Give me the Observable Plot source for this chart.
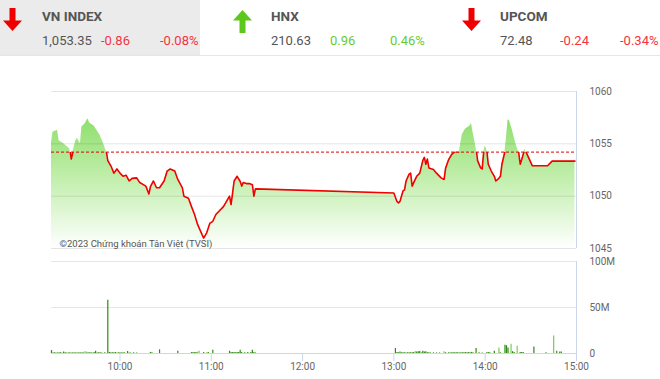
<!DOCTYPE html>
<html><head><meta charset="utf-8">
<script src="https://cdn.jsdelivr.net/npm/d3@7"></script>
<script src="https://cdn.jsdelivr.net/npm/@observablehq/plot@0.6"></script>
<style>
body{margin:0;background:#fff;}
#wrap{position:relative;width:660px;height:379px;overflow:hidden;font-family:Roboto,sans-serif;}
.blk{position:absolute;top:0;height:55px;}
.t{position:absolute;font-size:13px;line-height:16px;color:#555;white-space:nowrap;}
.nm{font-weight:bold;font-size:13.5px;}
#line{position:absolute;left:0;top:55px;width:660px;height:1px;background:#e6e6e6;}
#price{position:absolute;left:0;top:60px;}
#vol{position:absolute;left:0;top:255px;}
</style></head>
<body><div id="wrap"><div id="line"></div><div id="price"></div><div id="vol"></div></div>
<script>
// ---- header data ----
const idxNames = ["VN INDEX", "HNX", "UPCOM"];
const idxValues = ["1,053.35", "210.63", "72.48"];
const idxChanges = ["-0.86", "0.96", "-0.24"];
const idxPcts = ["-0.08%", "0.46%", "-0.34%"];
const idxDir = ["down", "up", "down"];

// ---- price series (VN-Index, intraday) ----
const priceTimes = ["09:15","09:16","09:19","09:20","09:23","09:26","09:27","09:28","09:29","09:31","09:32","09:34","09:35","09:37","09:39","09:40","09:43","09:45","09:47","09:49","09:51","09:52","09:54","09:56","09:58","10:00","10:02","10:04","10:06","10:08","10:11","10:13","10:17","10:19","10:20","10:22","10:24","10:26","10:29","10:31","10:33","10:36","10:38","10:41","10:42","10:45","10:47","10:49","10:51","10:54","10:55","10:57","10:59","11:01","11:03","11:06","11:08","11:10","11:12","11:13","11:14","11:15","11:17","11:19","11:20","11:21","11:23","11:25","11:27","11:28","11:29",
"13:00","13:02","13:03","13:04","13:06","13:07","13:08","13:10","13:11","13:12","13:14","13:15","13:17","13:19","13:20","13:21","13:22","13:23","13:26","13:28","13:31","13:33","13:34","13:36","13:38","13:40","13:43","13:44","13:45","13:47","13:50","13:51","13:52","13:54","13:55","13:57","13:58","13:59","14:00","14:01","14:02","14:04","14:06","14:07","14:09","14:10","14:11","14:13","14:14","14:15","14:16","14:18","14:20","14:22","14:23","14:24","14:26","14:28","14:31","14:41","14:44","14:59"];
const priceValues = [1055.1,1056.1,1056.3,1055.3,1055.0,1054.65,1054.5,1053.55,1054.2,1055.3,1055.5,1055.0,1056.6,1056.9,1057.4,1057.0,1056.7,1056.25,1055.8,1055.1,1054.3,1053.4,1052.9,1052.2,1052.6,1052.2,1051.9,1052.0,1051.45,1051.7,1051.75,1051.3,1050.96,1050.2,1050.9,1051.45,1050.8,1050.8,1051.45,1052.4,1052.6,1052.4,1051.6,1050.8,1050.0,1049.8,1049.0,1048.25,1047.3,1046.3,1046.0,1046.5,1047.4,1047.6,1048.25,1048.7,1049.0,1049.5,1050.0,1049.2,1050.3,1051.45,1051.9,1051.4,1050.96,1051.3,1051.2,1051.2,1051.1,1050.0,1050.7,
1050.3,1049.5,1049.35,1049.5,1050.5,1050.6,1051.45,1052.1,1052.2,1050.96,1051.6,1051.9,1052.2,1053.4,1053.7,1053.05,1053.55,1052.7,1052.55,1052.2,1051.75,1051.6,1052.7,1053.5,1054.0,1054.26,1054.26,1055.1,1055.9,1056.4,1056.7,1056.95,1056.1,1054.65,1053.4,1052.7,1052.6,1054.2,1054.8,1054.5,1053.05,1052.4,1051.9,1051.45,1051.7,1051.9,1053.05,1054.3,1055.6,1057.3,1057.2,1056.25,1055.1,1054.2,1053.05,1053.5,1054.5,1053.85,1052.9,1052.9,1053.35,1053.35];
const prevClose = 1054.21;
const priceTicks = [1045, 1050, 1055, 1060];

// ---- volume series ----
const volTimes = ["09:15","09:16","09:17","09:18","09:19","09:20","09:21","09:22","09:23","09:24","09:25","09:26","09:27","09:28","09:29","09:30","09:31","09:32","09:33","09:34","09:35","09:36","09:37","09:38","09:39","09:40","09:41","09:42","09:43","09:44","09:45","09:46","09:47","09:48","09:50","09:52","09:53","09:54","09:55","09:56","09:57","09:58","09:59","10:00","10:01","10:02","10:03","10:05","10:06","10:07","10:09","10:11","10:20","10:21","10:26","10:38","10:47","10:48","10:49","10:50","10:51","10:52","10:55","10:57","10:58","11:01","11:12","11:13","11:14","11:15","11:16","11:17","11:18","11:19","11:20","11:22","11:24","11:26","11:27","11:28","11:29",
"13:01","13:02","13:03","13:04","13:05","13:06","13:07","13:08","13:09","13:10","13:11","13:12","13:13","13:14","13:15","13:16","13:17","13:18","13:19","13:20","13:21","13:22","13:23","13:24","13:26","13:28","13:30","13:33","13:34","13:36","13:37","13:38","13:39","13:40","13:41","13:42","13:43","13:44","13:45","13:46","13:47","13:48","13:49","13:50","13:51","13:52","13:54","13:56","13:58","14:01","14:02","14:03","14:06","14:09","14:10","14:13","14:14","14:15","14:17","14:18","14:19","14:21","14:23","14:24","14:25","14:32","14:40","14:45","14:47","14:49","14:50"];
const volMillions = [3.3,1.0,0.8,0.6,1.0,0.7,0.8,0.6,1.6,0.7,0.8,0.6,0.9,0.7,0.8,0.6,0.9,0.7,0.8,0.6,0.9,1.2,1.8,1.5,0.8,0.7,0.9,0.6,1.0,2.5,1.2,0.8,0.7,0.6,0.8,58,1.0,0.9,0.8,0.7,1.0,0.8,0.7,0.9,0.6,0.8,0.7,2.2,0.8,0.6,0.7,0.6,1.2,0.8,4.0,2.5,1.0,1.0,0.9,1.0,1.5,2.5,1.0,0.8,1.0,3.5,2.5,1.0,1.0,1.0,0.9,1.0,1.0,3.5,1.0,0.8,1.0,1.0,3.5,1.2,1.0,
5.5,1.2,0.8,1.5,0.8,0.7,0.8,0.6,0.8,0.7,0.8,0.9,1.0,2.2,1.5,2.0,2.3,1.2,2.5,1.5,1.8,0.8,0.7,0.6,0.7,0.6,0.6,2.0,0.8,0.7,0.6,0.8,0.7,0.9,0.7,0.8,0.6,0.9,0.7,0.8,1.0,0.8,1.0,0.7,1.2,0.8,5.5,0.8,0.6,0.8,1.2,0.8,2.5,6.0,0.8,9.0,8.5,6.0,10.0,2.0,1.0,8.0,1.0,1.0,1.2,7.0,0.8,19.0,2.5,1.5,1.5];
const volSide = ["up","down","up","up","down","up","up","down","up","up","down","up","up","down","up","up","up","down","up","up","up","down","down","down","up","up","up","down","up","up","down","up","up","up","up","up","up","up","up","up","up","down","up","up","up","up","up","up","down","up","up","up","up","up","up","up","up","up","up","up","down","down","up","down","up","up","up","up","up","up","up","up","up","up","up","up","up","up","up","up","down",
"up","up","up","up","up","up","up","up","up","up","up","up","up","down","up","up","up","down","up","up","up","up","up","up","up","up","up","down","up","up","up","up","up","up","up","up","up","up","up","up","up","up","up","up","up","up","up","up","up","up","up","up","up","down","up","up","up","up","down","up","up","down","up","up","up","up","up","down","up","up","up"];
const volTicks = [0, 50e6, 100e6];
const hourTicks = ["10:00","11:00","12:00","13:00","14:00","15:00"];

// ---- helpers ----
const parseT = s => { const [h, m] = s.split(":").map(Number); return new Date(Date.UTC(2023, 0, 2, h, m)); };
const xDomain = [parseT("09:15"), parseT("15:00")];
const priceData = priceTimes.map((t, i) => ({t: parseT(t), v: priceValues[i]}));
const volData = volTimes.map((t, i) => ({t: parseT(t), v: volMillions[i] * 1e6, side: volSide[i]}));
const FONT = "Roboto,sans-serif";

// ---- header ----
const wrap = document.getElementById("wrap");
const textX = [[42, 42, 101, 160], [271, 271, 330, 390], [500, 500, 560, 620]];
const arrowX = [3, 233, 462];
const RED = "#f5333f", GREEN = "#66cc33";
idxNames.forEach((name, i) => {
  if (i === 0) {
    const g = document.createElement("div");
    g.className = "blk"; g.style.left = "0px"; g.style.width = "200px"; g.style.background = "#ebebeb";
    wrap.appendChild(g);
  }
  const up = idxDir[i] === "up";
  const ns = "http://www.w3.org/2000/svg";
  const a = document.createElementNS(ns, "svg");
  a.setAttribute("width", 19); a.setAttribute("height", 24);
  a.style.position = "absolute"; a.style.left = arrowX[i] + "px"; a.style.top = (up ? 10 : 8) + "px";
  const p = document.createElementNS(ns, "polygon");
  p.setAttribute("points", up ? "9.5,0 19,10.5 12.5,10.5 12.5,23 6.5,23 6.5,10.5 0,10.5"
                              : "6.5,0 12.5,0 12.5,12.5 19,12.5 9.5,23 0,12.5 6.5,12.5");
  p.setAttribute("fill", up ? "#5cc81c" : "#ee0000");
  a.appendChild(p); wrap.appendChild(a);
  const items = [[name, 8, "#555", true], [idxValues[i], 33, "#555", false], [idxChanges[i], 33, up ? GREEN : RED, false], [idxPcts[i], 33, up ? GREEN : RED, false]];
  items.forEach(([txt, top, col, bold], k) => {
    const s = document.createElement("span");
    s.className = "t" + (bold ? " nm" : "");
    s.textContent = txt; s.style.left = textX[i][k] + "px"; s.style.top = top + "px"; s.style.color = col;
    wrap.appendChild(s);
  });
});

// ---- price chart ----
const gradMark = () => {
  const defs = d3.create("svg:defs");
  const g = defs.append("linearGradient").attr("id", "gArea").attr("x1", 0).attr("y1", 0).attr("x2", 0).attr("y2", 1);
  g.append("stop").attr("offset", 0).attr("stop-color", "#8fdf6c");
  g.append("stop").attr("offset", 0.5).attr("stop-color", "#c6f0b2");
  g.append("stop").attr("offset", 1).attr("stop-color", "#ffffff");
  return defs.node();
};

const price = Plot.plot({
  width: 660, height: 195,
  marginLeft: 51, marginRight: 84, marginTop: 31, marginBottom: 7,
  style: {fontFamily: FONT, background: "transparent", overflow: "visible"},
  x: {type: "utc", domain: xDomain, axis: null},
  y: {domain: [1045, 1060], axis: null},
  marks: [
    gradMark,
    Plot.areaY(priceData, {x: "t", y1: 1045, y2: "v", fill: "url(#gArea)"}),
    Plot.ruleY(priceTicks, {stroke: "#000", strokeOpacity: 0.1}),
    Plot.ruleX([xDomain[1]], {stroke: "#ccd6eb"}),
    Plot.ruleY([prevClose], {stroke: "#e00000", strokeWidth: 1, strokeDasharray: "3,2"}),
    Plot.line(priceData, {x: "t", y: "v", stroke: "#f20000", strokeWidth: 1.6}),
    Plot.axisY(priceTicks, {anchor: "right", label: null, tickSize: 0, tickPadding: 13, fontSize: 10, fill: "#666", textAnchor: "start", tickFormat: d => String(d)}),
    Plot.text(["©2023 Chứng khoán Tân Việt (TVSI)"], {frameAnchor: "bottom-left", dx: 8, dy: -2, textAnchor: "start", fontSize: 9.5, fill: "#555"})
  ]
});
// clip the red line to the region below the previous close
{
  const yRef = price.scale("y").apply(prevClose);
  const svg = d3.select(price);
  svg.append("defs").append("clipPath").attr("id", "belowRef").append("rect")
    .attr("x", 0).attr("y", yRef).attr("width", 660).attr("height", 195 - yRef);
  svg.selectAll("g").filter(function() { return this.getAttribute("stroke") === "#f20000"; })
    .attr("clip-path", "url(#belowRef)");
}
document.getElementById("price").appendChild(price);

// ---- volume chart ----
const vol = Plot.plot({
  width: 660, height: 124,
  marginLeft: 51, marginRight: 84, marginTop: 6, marginBottom: 26,
  style: {fontFamily: FONT, background: "transparent", overflow: "visible"},
  x: {type: "utc", domain: xDomain, axis: null},
  y: {domain: [0, 100e6], axis: null},
  color: {type: "ordinal", domain: ["up", "down"], range: ["#2e8a10", "#7fc85a"]},
  marks: [
    Plot.ruleY(volTicks.slice(1), {stroke: "#e6e6e6"}),
    Plot.ruleX(volData, {x: "t", y1: 0, y2: "v", stroke: "side", strokeWidth: 1.2}),
    Plot.ruleY([0], {stroke: "#ccd6eb"}),
    Plot.ruleX([xDomain[1]], {stroke: "#ccd6eb"}),
    Plot.axisX(hourTicks.map(parseT), {label: null, tickSize: 8, tickPadding: 1, tickFormat: d3.utcFormat("%H:%M"), stroke: "#ccd6eb", fill: "#666", fontSize: 10}),
    Plot.axisY(volTicks, {anchor: "right", label: null, tickSize: 0, tickPadding: 13, fontSize: 10, fill: "#666", textAnchor: "start",
      tickFormat: d => d === 0 ? "0" : (d / 1e6) + "M"})
  ]
});
document.getElementById("vol").appendChild(vol);
</script>
</body></html>
